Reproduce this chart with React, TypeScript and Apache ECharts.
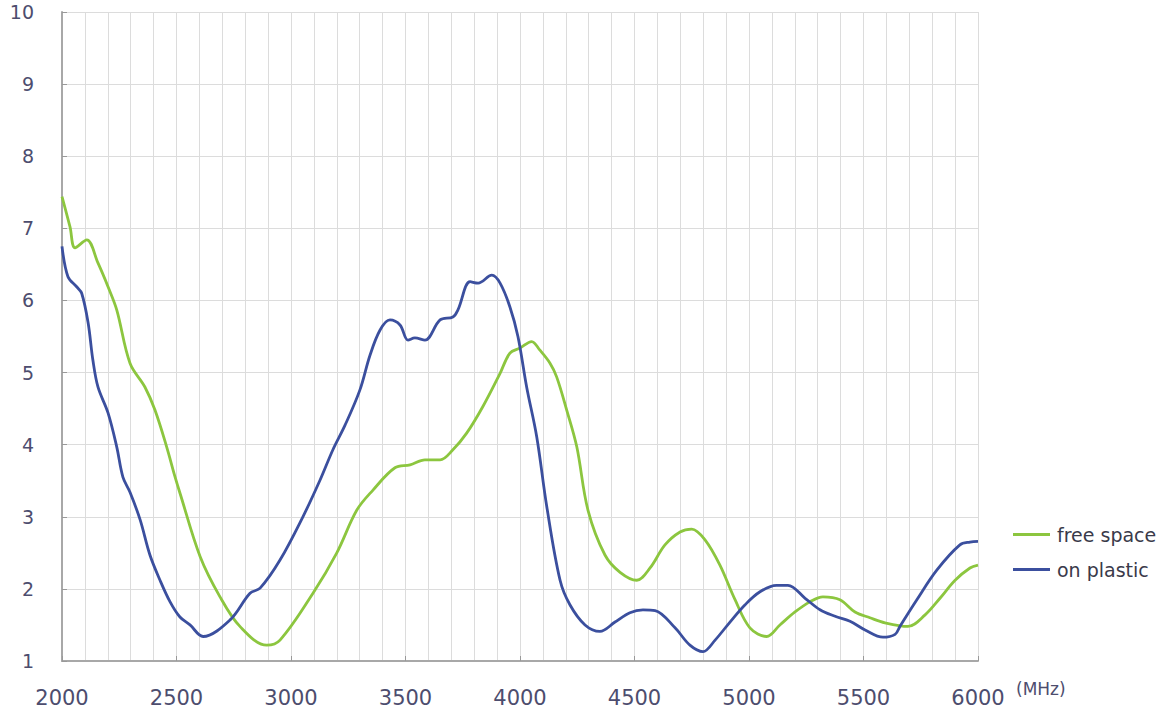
import React, { useEffect, useRef } from "react";
import * as echarts from "echarts";

const yTicks = [1, 2, 3, 4, 5, 6, 7, 8, 9, 10];
const xTicks = [2000, 2500, 3000, 3500, 4000, 4500, 5000, 5500, 6000];

const freeSpaceFreq = [
  2000, 2035, 2057, 2108, 2157, 2201, 2239, 2297, 2362, 2406, 2457, 2493, 2515, 2603, 2690, 2777, 2894, 2952,
  3096, 3200, 3287, 3358, 3454, 3520, 3585, 3651, 3707, 3767, 3838, 3913, 3956, 4000, 4051, 4087, 4131, 4160,
  4204, 4248, 4297, 4371, 4437, 4510, 4568, 4633, 4699, 4750, 4808, 4873, 4939, 5004, 5077, 5135, 5201, 5266,
  5323, 5397, 5463, 5528, 5594, 5694, 5769, 5834, 5900, 5965, 6000,
];
const freeSpaceVal = [
  7.44, 7.02, 6.73, 6.84, 6.52, 6.19, 5.87, 5.13, 4.8, 4.48, 3.97, 3.56, 3.33, 2.45, 1.89, 1.48, 1.22, 1.29,
  1.94, 2.5, 3.09, 3.37, 3.68, 3.72, 3.79, 3.79, 3.93, 4.16, 4.53, 4.99, 5.27, 5.34, 5.43, 5.31, 5.13, 4.94,
  4.48, 3.97, 3.09, 2.47, 2.23, 2.12, 2.29, 2.61, 2.79, 2.83, 2.68, 2.33, 1.85, 1.46, 1.34, 1.5, 1.68, 1.82,
  1.89, 1.85, 1.68, 1.6, 1.53, 1.48, 1.64, 1.87, 2.12, 2.29, 2.33,
];

const plasticFreq = [
  2000, 2026, 2064, 2086, 2114, 2135, 2157, 2201, 2239, 2266, 2297, 2341, 2384, 2428, 2472, 2515, 2559, 2616,
  2734, 2821, 2865, 2952, 3052, 3127, 3183, 3236, 3301, 3345, 3389, 3432, 3476, 3511, 3541, 3585, 3651, 3707,
  3729, 3782, 3817, 3877, 3913, 3956, 3991, 4029, 4073, 4117, 4175, 4218, 4284, 4349, 4415, 4480, 4537, 4590,
  4677, 4742, 4799, 4852, 4917, 4983, 5048, 5120, 5170, 5245, 5310, 5376, 5441, 5507, 5585, 5638, 5659, 5733,
  5820, 5921, 5965, 6000,
];
const plasticVal = [
  6.75, 6.33, 6.19, 6.1, 5.69, 5.17, 4.8, 4.44, 3.97, 3.55, 3.34, 2.96, 2.47, 2.12, 1.82, 1.61, 1.5, 1.34,
  1.57, 1.94, 2.01, 2.4, 3.0, 3.51, 3.93, 4.27, 4.76, 5.24, 5.59, 5.73, 5.66, 5.45, 5.48, 5.45, 5.73, 5.77,
  5.87, 6.26, 6.24, 6.35, 6.24, 5.91, 5.5, 4.8, 4.11, 3.14, 2.12, 1.78, 1.5, 1.41, 1.54, 1.67, 1.71, 1.7,
  1.46, 1.22, 1.13, 1.29, 1.54, 1.78, 1.96, 2.05, 2.05, 1.87, 1.71, 1.62, 1.55, 1.43, 1.33, 1.37, 1.48, 1.85,
  2.26, 2.61, 2.65, 2.66,
];

const seriesNames = ["free space", "on plastic"];
const seriesColors = ["#8cc63f", "#3b4f9e"];
const unitLabel = "(MHz)";

export default function App() {
  const ref = useRef<HTMLDivElement>(null);
  useEffect(() => {
    if (!ref.current) return;
    const chart = echarts.init(ref.current, undefined, { renderer: "svg" });
    const labelColor = "#4d4d6e";
    const font = "DejaVu Sans, Verdana, sans-serif";
    chart.setOption({
      animation: false,
      backgroundColor: "#ffffff",
      grid: { left: 62, right: 186, top: 12, bottom: 51, containLabel: false },
      legend: {
        orient: "vertical",
        left: 1008,
        top: 520,
        itemGap: 16,
        itemWidth: 37,
        itemHeight: 3,
        icon: "rect",
        textStyle: { fontSize: 19, color: "#3a3a4a", fontFamily: font, padding: [0, 0, 0, 2] },
        data: seriesNames,
      },
      xAxis: {
        type: "value",
        min: xTicks[0],
        max: xTicks[xTicks.length - 1],
        interval: 500,
        name: unitLabel,
        nameLocation: "end",
        nameGap: 38,
        nameTextStyle: {
          fontSize: 17,
          color: labelColor,
          verticalAlign: "top",
          padding: [19, 0, 0, 0],
          fontFamily: font,
        },
        axisLine: { show: true, lineStyle: { color: "#a8a8a8", width: 2 } },
        axisTick: { show: true, inside: true, length: 5, lineStyle: { color: "#999" } },
        axisLabel: {
          fontSize: 21,
          color: labelColor,
          margin: 26,
          fontFamily: font,
          formatter: (v: number) => String(v),
        },
        splitLine: { show: true, lineStyle: { color: "#dcdcdc", width: 1 } },
        minorTick: { show: false, splitNumber: 5 },
        minorSplitLine: { show: true, lineStyle: { color: "#dcdcdc", width: 1 } },
      },
      yAxis: {
        type: "value",
        min: yTicks[0],
        max: yTicks[yTicks.length - 1],
        interval: 1,
        axisLine: { show: true, lineStyle: { color: "#a8a8a8", width: 2 } },
        axisTick: { show: true, inside: true, length: 5, lineStyle: { color: "#999" } },
        axisLabel: {
          fontSize: 19,
          color: labelColor,
          margin: 28,
          fontFamily: font,
        },
        splitLine: { show: true, lineStyle: { color: "#dcdcdc", width: 1 } },
      },
      series: [
        {
          name: seriesNames[0],
          type: "line",
          symbol: "none",
          smooth: 0.35,
          color: seriesColors[0],
          lineStyle: { width: 2.8, color: seriesColors[0] },
          data: freeSpaceFreq.map((f, i) => [f, freeSpaceVal[i]]),
        },
        {
          name: seriesNames[1],
          type: "line",
          symbol: "none",
          smooth: 0.35,
          color: seriesColors[1],
          lineStyle: { width: 2.8, color: seriesColors[1] },
          data: plasticFreq.map((f, i) => [f, plasticVal[i]]),
        },
      ],
    });
    return () => chart.dispose();
  }, []);
  return (
    <div
      ref={ref}
      style={{ position: "fixed", left: 0, top: 0, width: 1164, height: 712, background: "#fff" }}
    />
  );
}
